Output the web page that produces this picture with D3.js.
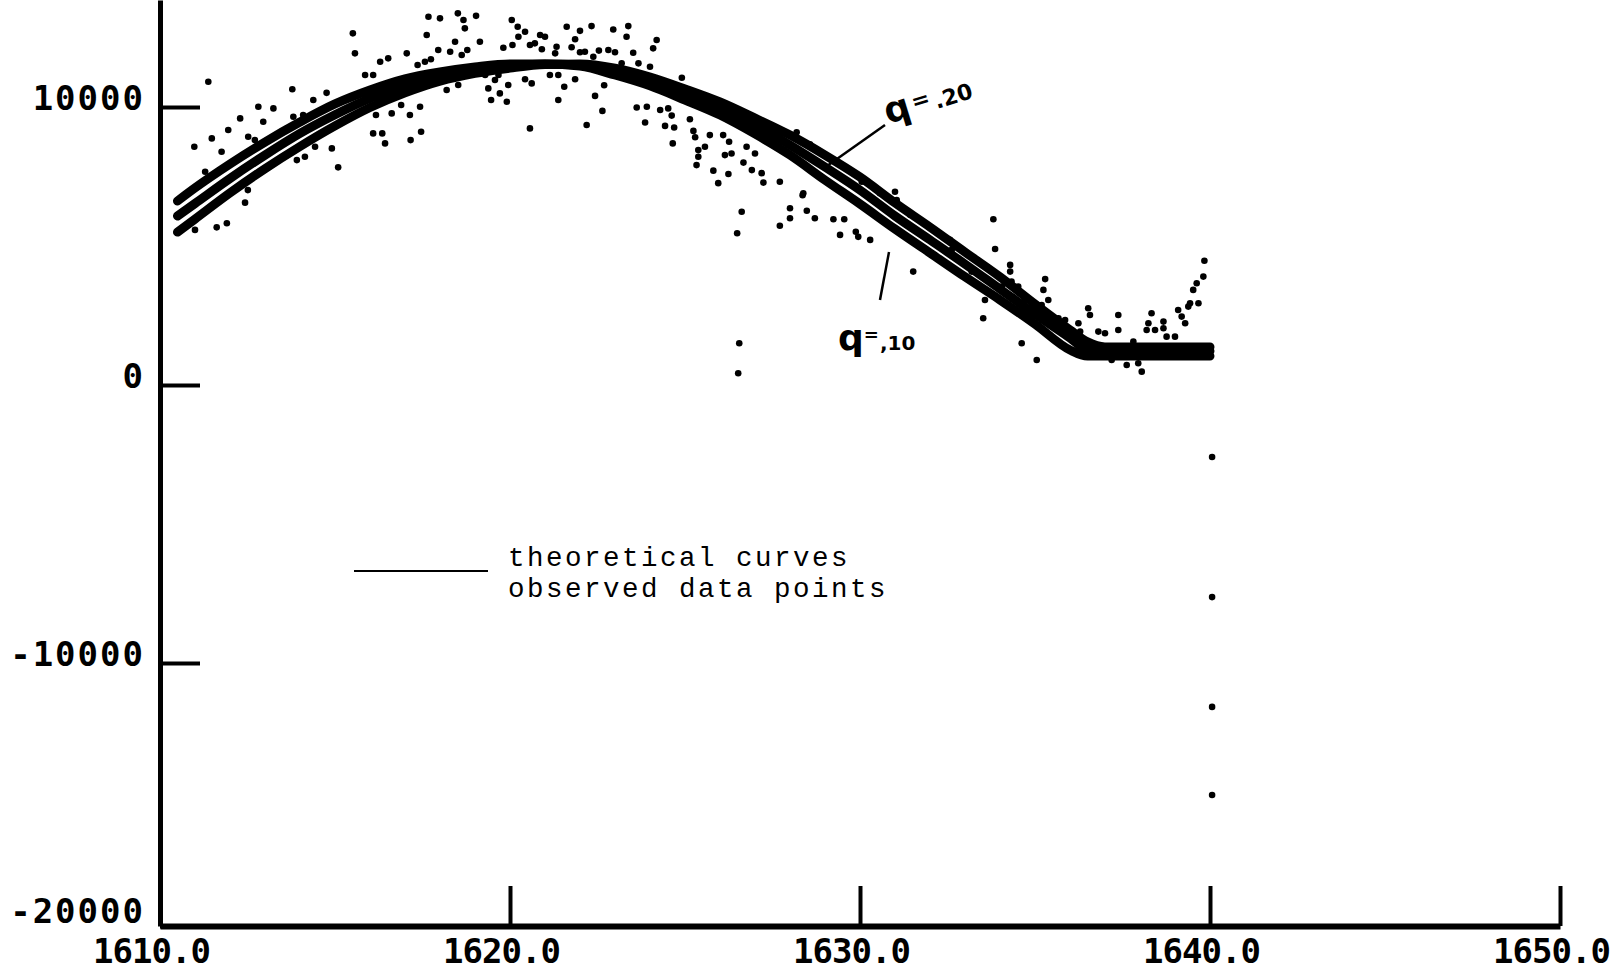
<!DOCTYPE html>
<html>
<head>
<meta charset="utf-8">
<script src="https://cdn.jsdelivr.net/npm/d3@7"></script>
<style>
  body { margin: 0; background: #fff; }
  svg { display: block; }
  .axis .tick text { font-family: "DejaVu Sans Mono", monospace; font-weight: bold; font-size: 34px; fill: #000; }
  .legend text { font-family: "Liberation Mono", "Courier New", monospace; font-size: 27.5px; letter-spacing: 2.5px; fill: #000; }
  .note { font-family: "DejaVu Sans", sans-serif; font-weight: bold; fill: #000; }
</style>
</head>
<body>
<svg id="chart" width="1619" height="972"></svg>
<script>
// tick values
var xTicks = [1610, 1620, 1630, 1640, 1650];
var yTicks = [10000, 0, -10000, -20000];

// theoretical curves (three values of q)
var curveYears = [1610.5, 1611, 1612, 1613, 1614, 1615, 1616, 1617, 1618, 1619, 1620, 1621, 1622, 1623, 1624, 1625,
  1626, 1627, 1628, 1629, 1630, 1631, 1632, 1633, 1634, 1635, 1636, 1636.5, 1637, 1638, 1639, 1640];
var curveQ10 = [6620, 7090, 7950, 8740, 9460, 10110, 10610, 11010, 11260, 11440, 11550, 11550, 11470, 11150, 10760, 10250,
  9710, 9030, 8270, 7370, 6510, 5610, 4750, 3890, 3060, 2190, 1260, 1040, 1040, 1040, 1040, 1040];
var curveQ15 = [6080, 6530, 7430, 8270, 9050, 9720, 10310, 10770, 11110, 11330, 11470, 11550, 11510, 11300, 10940, 10470,
  9960, 9350, 8630, 7840, 7010, 6080, 5220, 4350, 3450, 2550, 1690, 1260, 1220, 1220, 1220, 1220];
var curveQ20 = [5500, 5970, 6910, 7780, 8580, 9320, 9980, 10510, 10930, 11210, 11400, 11530, 11550, 11400, 11080, 10650,
  10180, 9600, 8990, 8270, 7480, 6550, 5680, 4780, 3890, 2910, 1980, 1550, 1370, 1370, 1370, 1370];

// observed data points
var obsYear = [1611.38, 1610.98, 1611.48, 1611.29, 1611.76, 1611.95, 1612.29, 1612.52, 1612.71, 1612.81,
  1612.95, 1613.24, 1613.78, 1613.81, 1614.09, 1614.38, 1614.76, 1614.43, 1614.91, 1615.09,
  1613.91, 1614.14, 1612.51, 1615.51, 1615.57, 1615.86, 1616.09, 1616.29, 1616.52, 1617.05,
  1617.36, 1617.57, 1617.74, 1617.62, 1617.67, 1618.00, 1618.51, 1618.67, 1619.03, 1618.71,
  1618.43, 1617.95, 1618.29, 1618.62, 1618.78, 1619.14, 1620.05, 1620.22, 1620.07, 1619.81,
  1620.24, 1616.17, 1616.35, 1616.43, 1616.62, 1616.89, 1617.14, 1617.43, 1617.46, 1617.16,
  1616.09, 1618.19, 1618.52, 1619.29, 1619.38, 1619.57, 1619.71, 1619.95, 1619.46, 1619.91,
  1619.67, 1612.43, 1611.91, 1611.62, 1611.00, 1621.62, 1622.00, 1622.33, 1622.95, 1623.38,
  1623.33, 1620.86, 1621.00, 1620.57, 1620.71, 1620.91, 1621.33, 1621.29, 1621.76, 1622.00,
  1622.14, 1622.54, 1622.81, 1623.00, 1622.38, 1623.52, 1624.19, 1624.09, 1623.19, 1623.67,
  1624.00, 1624.91, 1620.43, 1621.86, 1620.43, 1620.62, 1621.14, 1621.38, 1621.55, 1621.86,
  1621.38, 1622.43, 1622.69, 1622.64, 1622.19, 1620.57, 1623.62, 1623.91, 1624.29, 1624.52,
  1624.62, 1623.86, 1624.43, 1624.69, 1624.65, 1625.14, 1625.24, 1625.29, 1625.71, 1625.57,
  1625.38, 1625.38, 1625.33, 1626.09, 1626.26, 1625.81, 1625.95, 1626.24, 1626.14, 1626.33,
  1626.67, 1626.76, 1627.00, 1626.91, 1627.19, 1627.24, 1627.71, 1628.38, 1628.19, 1628.57,
  1630.05, 1630.57, 1626.62, 1626.49, 1626.55, 1626.52, 1628.36, 1628.00, 1628.48, 1628.00,
  1627.71, 1628.71, 1629.24, 1629.55, 1629.43, 1629.88, 1629.95, 1630.29, 1631.00, 1631.05,
  1631.43, 1633.81, 1633.86, 1631.52, 1632.57, 1634.29, 1634.29, 1634.33, 1634.52, 1634.57,
  1634.71, 1634.81, 1635.29, 1635.24, 1635.38, 1635.19, 1633.52, 1634.62, 1635.05, 1635.67,
  1635.86, 1635.71, 1635.86, 1636.24, 1636.29, 1636.52, 1636.57, 1636.81, 1637.00, 1637.38,
  1637.38, 1637.19, 1637.62, 1637.95, 1638.05, 1637.81, 1638.33, 1638.24, 1638.19, 1638.43,
  1638.67, 1638.67, 1638.76, 1639.00, 1639.09, 1639.19, 1639.29, 1639.38, 1639.43, 1639.52,
  1639.67, 1639.62, 1639.81, 1639.84, 1633.57, 1632.62, 1633.19, 1634.05, 1640.06, 1640.06,
  1640.06, 1640.06];
var obsValue = [10910, 8570, 8870, 7670, 8390, 9170, 9590, 8930, 8810, 10010,
  9470, 9950, 10640, 9650, 9710, 10250, 10510, 8570, 8510, 7830,
  8090, 8210, 7010, 12650, 11930, 11150, 11150, 11630, 11750, 11930,
  11510, 11630, 11720, 12590, 13250, 13190, 13370, 13130, 13280, 12830,
  12350, 12050, 11990, 11870, 12050, 12350, 13130, 12890, 12230, 12130,
  12530, 9710, 9050, 8690, 9770, 10070, 9710, 10010, 9110, 8810,
  9050, 10610, 10790, 11150, 10670, 10970, 10490, 10790, 10250, 10190,
  11150, 6560, 5820, 5670, 5580, 12890, 12740, 12910, 12790, 12910,
  12530, 12590, 12530, 12230, 12290, 12080, 12170, 11930, 12150, 11970,
  11990, 12030, 12050, 11970, 11810, 11950, 12410, 12110, 11570, 11570,
  11450, 11050, 12710, 12440, 11000, 10850, 11150, 11150, 10730, 11000,
  10250, 10400, 10780, 9860, 9350, 9230, 9980, 10010, 9890, 9950,
  9690, 9440, 9320, 9260, 8690, 9560, 9140, 8910, 8990, 8570,
  8450, 8210, 7910, 8990, 8750, 7710, 7260, 7590, 8270, 8330,
  8000, 8570, 8330, 7730, 7620, 7280, 7310, 6900, 9090, 8660,
  7310, 6900, 6230, 5460, 1500, 420, 6830, 6360, 6270, 6000,
  5730, 6000, 5960, 5960, 5400, 5510, 5330, 5220, 6950, 6650,
  6120, 5960, 4890, 4080, 5220, 4320, 4080, 3720, 3540, 3300,
  3060, 2760, 3810, 3420, 3060, 2880, 2400, 1500, 900, 2400,
  2340, 2100, 2100, 2220, 1920, 2760, 2520, 1920, 1860, 1980,
  2520, 900, 720, 780, 480, 1560, 2580, 2220, 1980, 1980,
  2280, 2040, 1740, 1740, 2700, 2460, 2220, 2820, 2940, 3420,
  2940, 3660, 3900, 4470, 3060, 4860, 4080, 3540, -2590, -7630,
  -11670, -15020];

var svg = d3.select("#chart");

var x = d3.scaleLinear().domain([1610, 1650]).range([160, 1560]);
// the scanned plot is not quite even, so the y scale is piecewise
var y = d3.scaleLinear()
  .domain([-20000, -10000, 0, 10000, 13850])
  .range([926, 663, 385, 107, 0]);

// y axis
var yAxisG = svg.append("g")
  .attr("class", "axis")
  .attr("transform", "translate(" + x(1610) + ",0)")
  .call(d3.axisLeft(y).tickValues(yTicks).tickSize(-40).tickSizeOuter(0).tickPadding(15)
    .tickFormat(function(d) { return String(d); }));
yAxisG.select(".domain").attr("stroke", "#000").attr("stroke-width", 5);
yAxisG.selectAll(".tick line").attr("stroke", "#000").attr("stroke-width", 4);
yAxisG.selectAll(".tick text").attr("dy", "0.06em").attr("letter-spacing", "2px");
// lift the bottom label a little so it clears the 1610.0 label
yAxisG.selectAll(".tick text").filter(function(d) { return d === -20000; }).attr("dy", "-0.1em");

// x axis
var xAxisG = svg.append("g")
  .attr("class", "axis")
  .attr("transform", "translate(0," + y(-20000) + ")")
  .call(d3.axisBottom(x).tickValues(xTicks).tickSize(-40).tickSizeOuter(0).tickPadding(13)
    .tickFormat(d3.format(".1f")));
xAxisG.select(".domain").attr("stroke", "#000").attr("stroke-width", 6);
xAxisG.selectAll(".tick line").attr("stroke", "#000").attr("stroke-width", 4);
xAxisG.selectAll(".tick text").attr("dx", -9).attr("letter-spacing", "-1px");

// observed points
var points = obsYear.map(function(yr, i) { return [yr, obsValue[i]]; });
svg.append("g").selectAll("circle")
  .data(points)
  .enter().append("circle")
  .attr("cx", function(d) { return x(d[0]); })
  .attr("cy", function(d) { return y(d[1]); })
  .attr("r", 3.3)
  .attr("fill", "#000");

// theoretical curves
var line = d3.line()
  .x(function(d) { return x(d[0]); })
  .y(function(d) { return y(d[1]); })
  .curve(d3.curveMonotoneX);

[curveQ10, curveQ15, curveQ20].forEach(function(vals) {
  svg.append("path")
    .datum(curveYears.map(function(yr, i) { return [yr, vals[i]]; }))
    .attr("d", line)
    .attr("fill", "none")
    .attr("stroke", "#000")
    .attr("stroke-width", 9)
    .attr("stroke-linecap", "round")
    .attr("stroke-linejoin", "round");
});

// hand written labels with leader lines
svg.append("line").attr("x1", 885).attr("y1", 125).attr("x2", 827).attr("y2", 166)
  .attr("stroke", "#000").attr("stroke-width", 2.5);
svg.append("line").attr("x1", 880).attr("y1", 300).attr("x2", 889).attr("y2", 252)
  .attr("stroke", "#000").attr("stroke-width", 2.5);

var n20 = svg.append("text").attr("class", "note")
  .attr("transform", "translate(888,124) rotate(-17)");
n20.append("tspan").attr("font-size", 36).text("q");
n20.append("tspan").attr("font-size", 22).attr("dx", 3).attr("dy", -6).text("=");
n20.append("tspan").attr("font-size", 22).attr("dx", 4).attr("dy", 6).text(".20");

var n10 = svg.append("text").attr("class", "note")
  .attr("transform", "translate(838,350)");
n10.append("tspan").attr("font-size", 36).text("q");
n10.append("tspan").attr("font-size", 18).attr("dy", -9).text("=");
n10.append("tspan").attr("font-size", 20).attr("dx", 1).attr("dy", 9).text(",10");

// legend
var legend = svg.append("g").attr("class", "legend");
legend.append("line").attr("x1", 354).attr("y1", 571).attr("x2", 488).attr("y2", 571)
  .attr("stroke", "#000").attr("stroke-width", 2);
legend.append("text").attr("x", 508).attr("y", 566).text("theoretical curves");
legend.append("text").attr("x", 508).attr("y", 597).text("observed data points");
</script>
</body>
</html>
